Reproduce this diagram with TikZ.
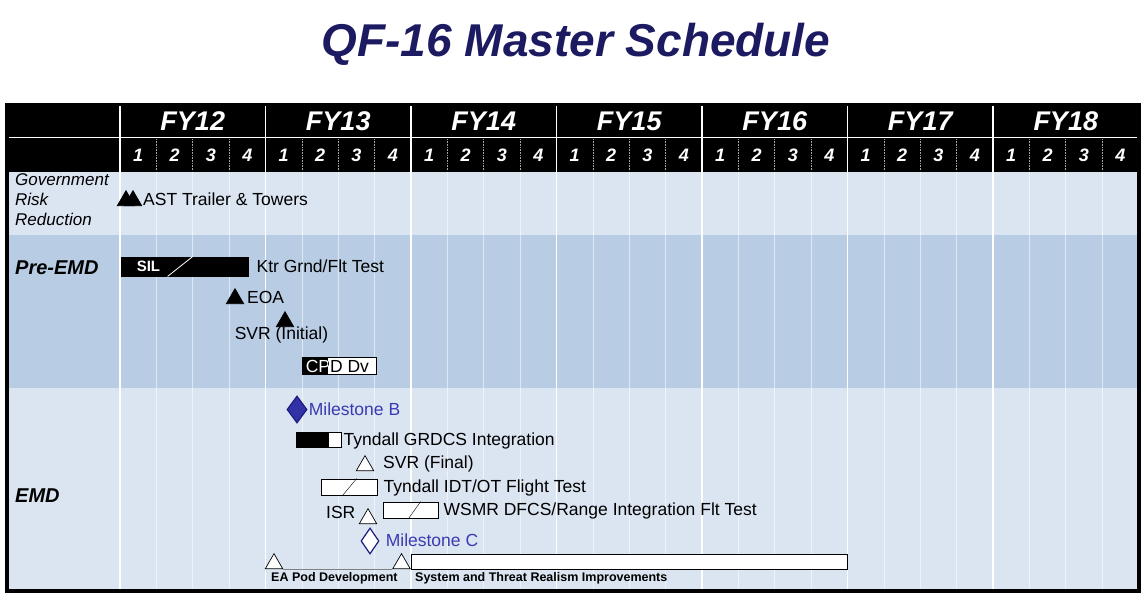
\documentclass[tikz,border=0pt]{standalone}
\usepackage{fontspec}
\setmainfont{Liberation Sans}
\usetikzlibrary{positioning, calc, shapes.geometric}

\definecolor{titlenavy}{HTML}{1C1B62}
\definecolor{rowlight}{HTML}{DBE5F1}
\definecolor{rowdark}{HTML}{B8CCE4}
\definecolor{msblue}{HTML}{3232A6}
\definecolor{msline}{HTML}{1B1B80}
\definecolor{mstext}{HTML}{3A3AB2}

\begin{document}
\begin{tikzpicture}[x=1pt, y=-1pt,
    % Header text styles
    yearlbl/.style={font=\fontsize{27}{27}\selectfont\bfseries\itshape, text=white, inner sep=0pt},
    qtrlbl/.style={font=\fontsize{18}{18}\selectfont\bfseries\itshape, text=white, inner sep=0pt},
    % Row and item text styles
    rowlbl/.style={font=\fontsize{20}{20}\selectfont\bfseries\itshape, anchor=west, inner sep=0pt},
    govlbl/.style={font=\fontsize{17}{17}\selectfont\itshape, anchor=west, inner sep=0pt},
    item/.style={font=\fontsize{17.5}{17.5}\selectfont, anchor=west, inner sep=0pt},
    smallitem/.style={font=\fontsize{12.5}{12.5}\selectfont\bfseries, anchor=west, inner sep=0pt},
    mslbl/.style={item, text=mstext},
    % Milestone styles
    tri/.style={regular polygon, regular polygon sides=3, draw, line width=0.7pt,
        inner sep=0pt, minimum size=20pt, anchor=south},
    opentri/.style={tri, fill=white},
    filltri/.style={tri, fill=black},
    msdiamond/.style={diamond, draw=msline, line width=1.2pt, inner sep=0pt,
        minimum width=18pt, minimum height=26pt},
    % Bar style
    bar/.style={draw, fill=white, inner sep=0pt, line width=0.8pt},
    % Grid line styles
    yearline/.style={white, line width=1.2pt},
    qtrline/.style={white, opacity=0.55, line width=0.7pt},
]
\useasboundingbox (0,0) rectangle (1147,598);
\fill[white] (0,0) rectangle (1147,598);

% ===== TITLE =====
\node[font=\fontsize{46}{46}\selectfont\bfseries\itshape, text=titlenavy] (title) at (576,44)
    {QF-16 Master Schedule};

% ===== FRAME AND ROW BANDS =====
\fill[black] (5,103) rectangle (1141,593);
\fill[rowlight] (9,172) rectangle (1137,235);
\fill[rowdark] (9,235) rectangle (1137,388);
\fill[rowlight] (9,388) rectangle (1137,589);

% header split line
\draw[white, line width=1pt] (9,137) -- (1137,137);
\draw[white, line width=1pt] (120,106) -- (120,589);

% ===== YEAR / QUARTER GRID =====
\foreach \k in {0,...,6} {
    \pgfmathsetmacro{\xs}{120+\k*145.5}
    \pgfmathtruncatemacro{\yr}{12+\k}
    \draw[yearline] (\xs,106) -- (\xs,589);
    \node[yearlbl] (fy\yr) at (\xs+72.75,121) {FY\yr};
    \foreach \q in {1,...,4} {
        \node[qtrlbl] (q\yr-\q) at (\xs+\q*36.375-18.19,155) {\q};
    }
    \foreach \q in {1,2,3} {
        \draw[gray!70, densely dotted, line width=0.6pt] (\xs+\q*36.375,139) -- (\xs+\q*36.375,171);
        \draw[qtrline] (\xs+\q*36.375,172) -- (\xs+\q*36.375,589);
    }
}

% ===== ROW LABELS =====
\node[govlbl] (lbl-gov1) at (15,180) {Government};
\node[govlbl] (lbl-gov2) at (15,199.5) {Risk};
\node[govlbl] (lbl-gov3) at (15,219) {Reduction};
\node[rowlbl] (lbl-pre) at (15,268) {Pre-EMD};
\node[rowlbl] (lbl-emd) at (15,496) {EMD};

% ===== GOVERNMENT RISK REDUCTION =====
\node[filltri] (G-tri-a) at (126,206) {};
\node[filltri] (G-tri-b) at (133,206) {};
\node[item] (G-ast) at (143,199.5) {AST Trailer \& Towers};

% ===== PRE-EMD =====
% SIL / contractor ground and flight test
\node[bar, fill=black, minimum width=127pt, minimum height=19pt] (P-sil) at (184.5,266.5) {};
\node[font=\fontsize{15}{15}\selectfont\bfseries, text=white, anchor=west, inner sep=0pt]
    (P-sil-lbl) at ($(P-sil.west)+(16,0)$) {SIL};
\draw[white, line width=0.8pt] ($(P-sil.south west)+(47,0)$) -- ($(P-sil.north west)+(72,0)$);
\node[item, right=8pt of P-sil] (P-ktr) {Ktr Grnd/Flt Test};

% EOA
\node[filltri] (P-eoa) at (235,304) {};
\node[item] (P-eoa-txt) at (247,297) {EOA};

% SVR (Initial)
\node[filltri] (P-svr) at (285,327) {};
\node[item, anchor=center] (P-svr-txt) at (281.5,335) {SVR (Initial)};

% CPD Dv
\node[bar, minimum width=74pt, minimum height=17pt] (P-cpd) at (339,365.5) {};
\fill[black] (P-cpd.north west) rectangle ($(P-cpd.south west)+(26,0)$);
\node[item] (P-cpd-txt) at ($(P-cpd.west)+(4,1)$) {CPD Dv};
\begin{scope}
    \clip (P-cpd.north west) rectangle ($(P-cpd.south west)+(26,0)$);
    \node[item, text=white] (P-cpd-wt) at ($(P-cpd.west)+(4,1)$) {CPD Dv};
\end{scope}

% ===== EMD =====
% Milestone B
\node[msdiamond, fill=msblue, minimum width=20pt, minimum height=27pt] (E-msb) at (297,409.5) {};
\node[mslbl, right=1pt of E-msb] (E-msb-txt) {Milestone B};

% Tyndall GRDCS integration
\node[bar, minimum width=45pt, minimum height=15pt] (E-grdcs) at (318.5,439.5) {};
\fill[black] (E-grdcs.north west) rectangle ($(E-grdcs.south west)+(33,0)$);
\node[item, right=2pt of E-grdcs, yshift=-1.5pt] (E-grdcs-txt) {Tyndall GRDCS Integration};

% SVR (Final)
\node[opentri] (E-svr) at (365,471) {};
\node[item] (E-svr-txt) at (383,464) {SVR (Final)};

% Tyndall IDT/OT flight test
\node[bar, minimum width=56pt, minimum height=16pt] (E-idt) at (349,487) {};
\draw ($(E-idt.south west)+(22,0)$) -- ($(E-idt.north west)+(36,0)$);
\node[item, right=6pt of E-idt, yshift=-1pt] (E-idt-txt) {Tyndall IDT/OT Flight Test};

% ISR and WSMR
\node[item] (E-isr) at (326,512) {ISR};
\node[opentri] (E-isr-tri) at (368,524) {};
\node[bar, minimum width=55pt, minimum height=16pt] (E-wsmr) at (410.5,510) {};
\draw ($(E-wsmr.south west)+(26,0)$) -- ($(E-wsmr.north west)+(38,0)$);
\node[item, right=5pt of E-wsmr, yshift=-1pt] (E-wsmr-txt) {WSMR DFCS/Range Integration Flt Test};

% Milestone C
\node[msdiamond, fill=white] (E-msc) at (370,541) {};
\node[mslbl, right=6pt of E-msc, yshift=1pt] (E-msc-txt) {Milestone C};

% EA pod and realism improvements
\node[opentri] (E-ea-a) at (274,569) {};
\node[opentri] (E-ea-b) at (401.5,569) {};
\draw[gray, line width=0.8pt] (E-ea-a.corner 3) -- (E-ea-b.corner 2);
\node[bar, minimum width=436pt, minimum height=15pt] (E-str) at (629,561.5) {};
\node[smallitem] (E-ea-txt) at (271,578.5) {EA Pod Development};
\node[smallitem] (E-str-txt) at (415,578.5) {System and Threat Realism Improvements};

\end{tikzpicture}
\end{document}
